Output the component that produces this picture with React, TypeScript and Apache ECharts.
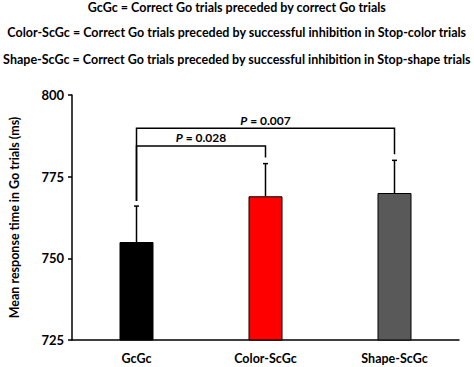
import React, { useEffect, useRef } from "react";
import * as echarts from "echarts";

const categories = ["GcGc", "Color-ScGc", "Shape-ScGc"];
const means = [755, 769, 770];
const errors = [11, 10, 10];
const barColors = ["#000000", "#FF0000", "#595959"];
const yTicks = { min: 725, max: 800, interval: 25 };
// [fromIndex, toIndex, bracketValue, pLabel]
const brackets: [number, number, number, string][] = [
  [0, 1, 784.4, "0.028"],
  [0, 2, 789.8, "0.007"],
];
const legendLines = [
  "GcGc = Correct Go trials preceded by correct Go trials",
  "Color-ScGc = Correct Go trials preceded by successful inhibition in Stop-color trials",
  "Shape-ScGc = Correct Go trials preceded by successful inhibition in Stop-shape trials",
];
const yAxisTitle = "Mean response time in Go trials (ms)";

const FONT = "Lato";

export default function App() {
  const ref = useRef<HTMLDivElement>(null);
  useEffect(() => {
    document.body.style.margin = "0";
    if (!ref.current) return;
    const chart = echarts.init(ref.current, undefined, { renderer: "svg" });
    const titleTops = [1, 26, 53];
    chart.setOption({
      animation: false,
      backgroundColor: "#ffffff",
      graphic: legendLines.map((t, i) => ({
        type: "text",
        left: "center",
        top: titleTops[i],
        style: {
          text: t,
          font: `bold 12.5px ${FONT}`,
          fill: "#000",
        },
      })),
      grid: { left: 71, right: 15, top: 95, bottom: 27 },
      xAxis: {
        type: "category",
        data: categories,
        axisLine: { lineStyle: { color: "#000", width: 1.5 } },
        axisTick: { show: false },
        axisLabel: {
          color: "#000",
          fontFamily: FONT,
          fontWeight: "bold",
          fontSize: 12.5,
          margin: 12,
        },
      },
      yAxis: {
        type: "value",
        min: yTicks.min,
        max: yTicks.max,
        interval: yTicks.interval,
        name: yAxisTitle,
        nameLocation: "middle",
        nameGap: 51,
        nameTextStyle: {
          color: "#000",
          fontFamily: FONT,
          fontWeight: "bold",
          fontSize: 12.5,
        },
        axisLine: { show: true, lineStyle: { color: "#000", width: 1.5 } },
        axisTick: { show: true, length: 4, lineStyle: { color: "#000", width: 1.5 } },
        splitLine: { show: false },
        axisLabel: {
          color: "#000",
          fontFamily: FONT,
          fontWeight: "bold",
          fontSize: 13,
          margin: 8,
        },
      },
      series: [
        {
          type: "bar",
          barWidth: 34,
          data: means.map((v, i) => ({
            value: v,
            itemStyle: { color: barColors[i], borderColor: "#000", borderWidth: 1 },
          })),
          z: 2,
        },
        {
          type: "custom",
          z: 3,
          data: means.map((v, i) => [i, v, v + errors[i]]),
          renderItem: (params: any, api: any) => {
            const i = api.value(0);
            const p0 = api.coord([i, api.value(1)]);
            const p1 = api.coord([i, api.value(2)]);
            const style = { stroke: "#000", lineWidth: 1.5 };
            return {
              type: "group",
              children: [
                { type: "line", shape: { x1: p0[0], y1: p0[1], x2: p1[0], y2: p1[1] }, style },
                { type: "line", shape: { x1: p1[0] - 2.5, y1: p1[1], x2: p1[0] + 2.5, y2: p1[1] }, style },
              ],
            };
          },
        },
        {
          type: "custom",
          z: 3,
          data: brackets.map((b) => [b[0], b[1], b[2], b[3]]),
          renderItem: (params: any, api: any) => {
            const a = api.value(0);
            const b = api.value(1);
            const yv = api.value(2);
            const label = brackets[params.dataIndex][3];
            const pa = api.coord([a, yv]);
            const pb = api.coord([b, yv]);
            const aTop = api.coord([a, means[a] + errors[a]]);
            const bTop = api.coord([b, means[b] + errors[b]]);
            const style = { stroke: "#000", lineWidth: 1.5, fill: null };
            return {
              type: "group",
              children: [
                {
                  type: "polyline",
                  shape: {
                    points: [
                      [pa[0], aTop[1] - 5],
                      [pa[0], pa[1]],
                      [pb[0], pb[1]],
                      [pb[0], bTop[1] - 6],
                    ],
                  },
                  style,
                },
                {
                  type: "text",
                  x: (pa[0] + pb[0]) / 2,
                  y: pa[1] - 2,
                  style: {
                    text: `{i|P}{n| = ${label}}`,
                    align: "center",
                    verticalAlign: "bottom",
                    rich: {
                      i: { font: `italic bold 12px ${FONT}`, fill: "#000" },
                      n: { font: `bold 12px ${FONT}`, fill: "#000" },
                    },
                  },
                },
              ],
            };
          },
        },
      ],
    });
    return () => chart.dispose();
  }, []);
  return <div ref={ref} style={{ width: 474, height: 367 }} />;
}
